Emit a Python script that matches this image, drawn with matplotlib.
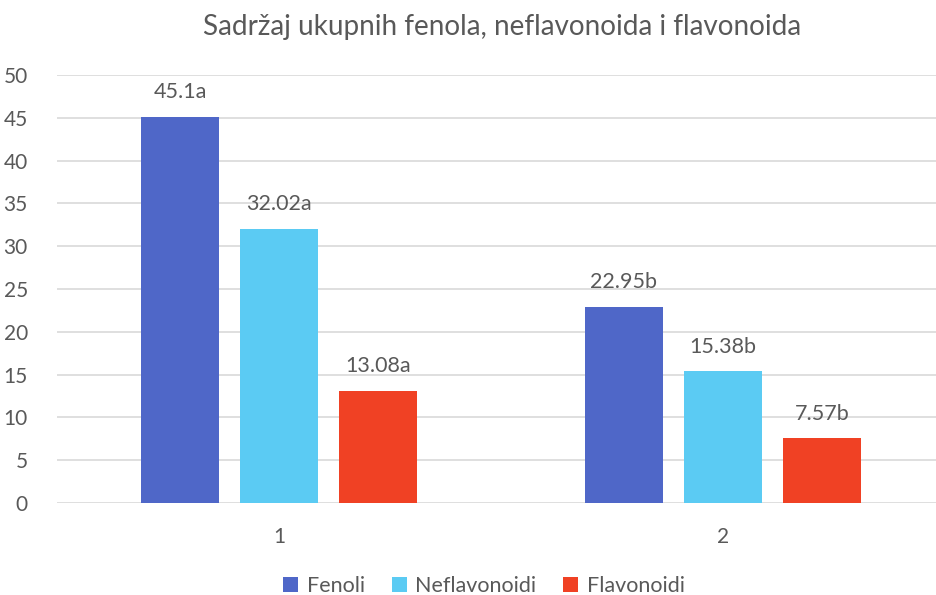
import matplotlib
matplotlib.use("Agg")
import matplotlib.pyplot as plt
import numpy as np

categories = ["1", "2"]
series_names = ["Fenoli", "Neflavonoidi", "Flavonoidi"]
fenoli = [45.1, 22.95]
neflavonoidi = [32.02, 15.38]
flavonoidi = [13.08, 7.57]
labels_fenoli = ["45.1a", "22.95b"]
labels_neflavonoidi = ["32.02a", "15.38b"]
labels_flavonoidi = ["13.08a", "7.57b"]
yticks = [0, 5, 10, 15, 20, 25, 30, 35, 40, 45, 50]

colors = ["#4F67C8", "#5BCBF3", "#F04124"]
text_col = "#595959"
plt.rcParams["font.family"] = ["Lato", "DejaVu Sans"]

fig = plt.figure(figsize=(9.36, 5.95), dpi=100)
ax = fig.add_axes([57 / 936, 92 / 595, 888 / 936, 428 / 595])

x = np.arange(len(categories))
width = 0.176
offsets = [-0.223, 0, 0.223]
all_vals = [fenoli, neflavonoidi, flavonoidi]
all_labels = [labels_fenoli, labels_neflavonoidi, labels_flavonoidi]
for i, (name, vals, labs) in enumerate(zip(series_names, all_vals, all_labels)):
    bars = ax.bar(x + offsets[i], vals, width, color=colors[i], label=name, zorder=3)
    for b, lab in zip(bars, labs):
        ax.text(b.get_x() + b.get_width() / 2, b.get_height() + 1.7, lab,
                ha="center", va="bottom", fontsize=15.5, color=text_col)

ax.set_xlim(-0.5, 1.5)
ax.set_ylim(0, 50)
ax.set_yticks(yticks)
ax.set_xticks(x)
ax.set_xticklabels(categories)
ax.grid(axis="y", color="#D9D9D9", linewidth=1.2, zorder=0)
for s in ax.spines.values():
    s.set_visible(False)
ax.tick_params(axis="both", length=0, labelsize=15, colors=text_col)
ax.tick_params(axis="y", pad=21)
ax.tick_params(axis="x", pad=17)
for lbl in ax.get_yticklabels():
    lbl.set_horizontalalignment("right")

fig.text(502 / 936, 1 - 27 / 595, "Sadržaj ukupnih fenola, neflavonoida i flavonoida",
         ha="center", va="center", fontsize=20.1, color=text_col)

leg = fig.legend(loc="center", ncol=3,
                 frameon=False, fontsize=15.5, handlelength=0.7, handleheight=0.7,
                 columnspacing=1.25, handletextpad=0.4)
for t in leg.get_texts():
    t.set_color(text_col)
leg.set_bbox_to_anchor((484 / 936, 1 - 586 / 595), transform=fig.transFigure)

fig.savefig("out.png", dpi=100)
